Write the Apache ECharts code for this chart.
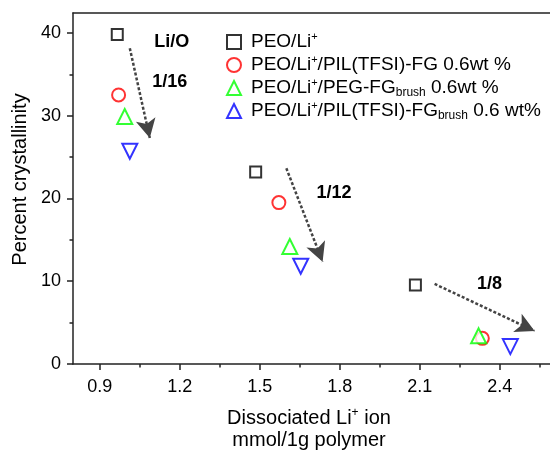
<!DOCTYPE html>
<html>
<head>
<meta charset="utf-8">
<script src="https://cdn.jsdelivr.net/npm/echarts@6/dist/echarts.min.js"></script>
<style>
html,body{margin:0;padding:0;background:#fff;}
#c{width:550px;height:451px;}
</style>
</head>
<body>
<div id="c"></div>
<script>
// ---- data ----
const seriesNames = ['PEO/Li+', 'PEO/Li+/PIL(TFSI)-FG 0.6wt %', 'PEO/Li+/PEG-FGbrush 0.6wt %', 'PEO/Li+/PIL(TFSI)-FGbrush 0.6 wt%'];
const legendRich = ['PEO/Li{sup|+}', 'PEO/Li{sup|+}/PIL(TFSI)-FG 0.6wt %', 'PEO/Li{sup|+}/PEG-FG{sub|brush} 0.6wt %', 'PEO/Li{sup|+}/PIL(TFSI)-FG{sub|brush} 0.6 wt%'];
const xPEO = [0.966, 1.485, 2.084];
const yPEO = [39.8, 23.2, 9.55];
const xPIL = [0.971, 1.572, 2.335];
const yPIL = [32.5, 19.5, 3.1];
const xPEG = [0.994, 1.613, 2.321];
const yPEG = [29.9, 14.2, 3.4];
const xBrush = [1.013, 1.654, 2.440];
const yBrush = [25.7, 11.8, 2.1];
const xTickLabels = [0.9, 1.2, 1.5, 1.8, 2.1, 2.4];
const xMinorTicks = [1.05, 1.35, 1.65, 1.95, 2.25, 2.55];
const yTickLabels = [0, 10, 20, 30, 40];
const yMinorTicks = [5, 15, 25, 35];
const arrowStart = [[1.013, 38.15], [1.600, 23.65], [2.156, 9.67]];
const arrowEnd = [[1.088, 27.3], [1.736, 12.36], [2.531, 3.99]];
const noteText = ['Li/O', '1/16', '1/12', '1/8'];
const notePos = [[1.170, 38.9], [1.163, 34.1], [1.779, 20.6], [2.362, 9.67]];

const FONT = 'Liberation Sans, Arial, sans-serif';
const AX = '#222';
const zip = (xs, ys) => xs.map((x, i) => [x, ys[i]]);

const chart = echarts.init(document.getElementById('c'), null, {renderer: 'canvas'});

const baseAxisX = {
  type: 'value', min: 0.8, max: 2.6, gridIndex: 0,
  splitLine: {show: false}
};
const baseAxisY = {
  type: 'value', min: 0, max: 42.4, gridIndex: 0,
  splitLine: {show: false}
};

function scatter(name, data, symbol, color, size, rotate) {
  return {
    name: name, type: 'scatter', data: data, symbol: symbol, symbolSize: size,
    symbolRotate: rotate || 0,
    itemStyle: {color: '#fff', borderColor: color, borderWidth: 2},
    emphasis: {disabled: true}, z: 3
  };
}

const option = {
  animation: false,
  backgroundColor: '#fff',
  grid: {left: 73, right: -3, top: 13, bottom: 87, containLabel: false, outerBoundsMode: 'none'},
  legend: {
    data: seriesNames.map(n => ({name: n})),
    orient: 'vertical', left: 221, top: 26, itemGap: 1,
    itemWidth: 14, itemHeight: 14, selectedMode: false,
    formatter: function (name) { return legendRich[seriesNames.indexOf(name)]; },
    textStyle: {
      fontFamily: FONT, fontSize: 19, color: '#000', lineHeight: 22, padding: [0, 0, 0, 5],
      rich: {
        sup: {fontFamily: FONT, fontSize: 11, lineHeight: 12, verticalAlign: 'top', color: '#000'},
        sub: {fontFamily: FONT, fontSize: 12, lineHeight: 12, verticalAlign: 'bottom', color: '#000'}
      }
    }
  },
  xAxis: [
    Object.assign({}, baseAxisX, {
      position: 'bottom',
      axisLine: {show: true, lineStyle: {color: AX, width: 1.5}},
      axisTick: {show: true, inside: false, length: 6, customValues: xTickLabels, lineStyle: {color: AX, width: 1.5}},
      axisLabel: {show: true, customValues: xTickLabels, margin: 14, color: '#000', fontFamily: FONT, fontSize: 18,
        formatter: v => v.toFixed(1)},
      name: 'Dissociated Li{sup|+} ion\nmmol/1g polymer',
      nameLocation: 'middle', nameGap: 43,
      nameTextStyle: {fontFamily: FONT, fontSize: 20, color: '#000', lineHeight: 22, padding: [0, 8, 0, 0],
        rich: {sup: {fontFamily: FONT, fontSize: 12, lineHeight: 12, verticalAlign: 'top', color: '#000'}}}
    }),
    Object.assign({}, baseAxisX, {
      position: 'bottom',
      axisLine: {show: false},
      axisTick: {show: true, inside: false, length: 3.5, customValues: xMinorTicks, lineStyle: {color: AX, width: 1.5}},
      axisLabel: {show: false}
    }),
    Object.assign({}, baseAxisX, {
      position: 'top',
      axisLine: {show: true, lineStyle: {color: AX, width: 1.5}},
      axisTick: {show: false}, axisLabel: {show: false}
    })
  ],
  yAxis: [
    Object.assign({}, baseAxisY, {
      position: 'left',
      axisLine: {show: true, lineStyle: {color: AX, width: 1.5}},
      axisTick: {show: true, inside: false, length: 6, customValues: yTickLabels, lineStyle: {color: AX, width: 1.5}},
      axisLabel: {show: true, customValues: yTickLabels, margin: 12, color: '#000', fontFamily: FONT, fontSize: 18},
      name: 'Percent crystallinity', nameLocation: 'middle', nameGap: 43,
      nameTextStyle: {fontFamily: FONT, fontSize: 20, color: '#000', padding: [0, 0, 0, 18]}
    }),
    Object.assign({}, baseAxisY, {
      position: 'left',
      axisLine: {show: false},
      axisTick: {show: true, inside: false, length: 3.5, customValues: yMinorTicks, lineStyle: {color: AX, width: 1.5}},
      axisLabel: {show: false}
    })
  ],
  series: [
    scatter(seriesNames[0], zip(xPEO, yPEO), 'rect', '#000', 11),
    scatter(seriesNames[1], zip(xPIL, yPIL), 'circle', '#ff0000', 13),
    scatter(seriesNames[2], zip(xPEG, yPEG), 'triangle', '#00ff00', 15),
    scatter(seriesNames[3], zip(xBrush, yBrush), 'triangle', '#0000ff', 15, 180),
    {
      name: 'arrows', type: 'scatter', data: [], silent: true,
      markLine: {
        silent: true, animation: false,
        symbol: ['none', 'arrow'], symbolSize: [15, 19],
        label: {show: false},
        lineStyle: {color: '#444', width: 2.5, type: [3, 2]},
        emphasis: {disabled: true},
        data: arrowStart.map((s, i) => [{coord: s}, {coord: arrowEnd[i]}])
      },
      markPoint: {
        silent: true, animation: false,
        symbol: 'circle', symbolSize: 1,
        itemStyle: {color: 'rgba(0,0,0,0)'},
        label: {show: true, position: 'inside', formatter: '{b}', color: '#000',
          fontFamily: FONT, fontSize: 18, fontWeight: 'bold'},
        data: noteText.map((t, i) => ({name: t, coord: notePos[i]}))
      }
    }
  ]
};
chart.setOption(option);
</script>
</body>
</html>
